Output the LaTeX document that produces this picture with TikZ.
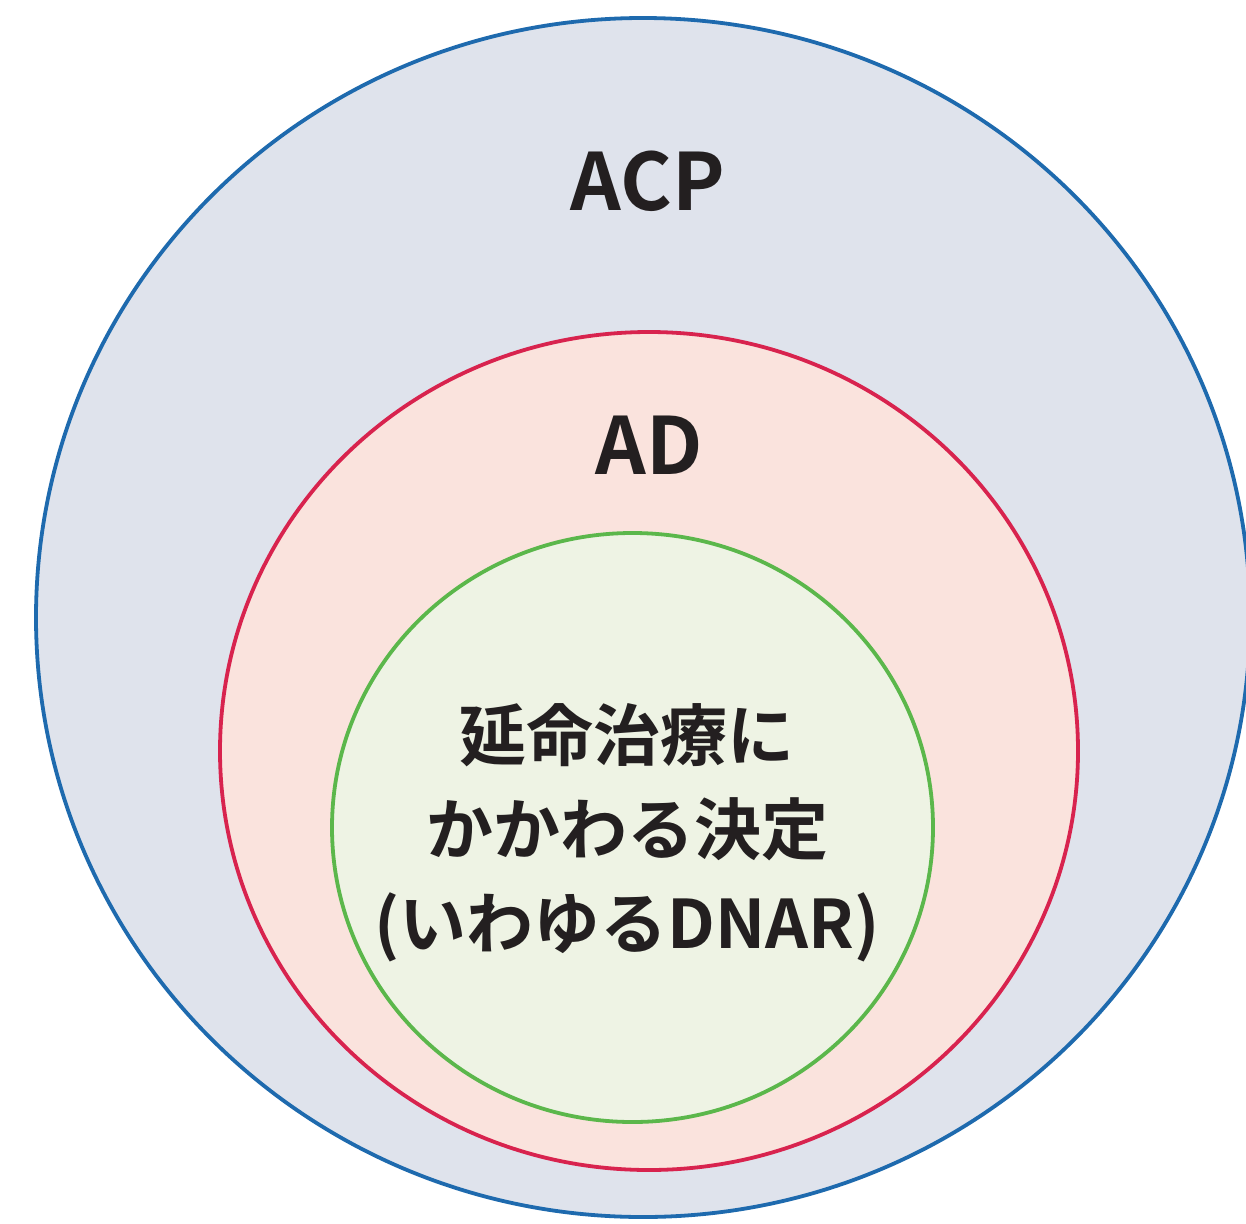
\documentclass[tikz,border=0pt]{standalone}
\usepackage{fontspec}
\setmainfont{Noto Sans CJK JP}[BoldFont={* Bold}]
\newfontfamily\jpbold{Noto Sans CJK JP Bold}
\usetikzlibrary{shapes.geometric}
\definecolor{acpfill}{HTML}{DFE3EC}
\definecolor{acpline}{HTML}{1E6AAE}
\definecolor{adfill}{HTML}{FAE3DD}
\definecolor{adline}{HTML}{D8234E}
\definecolor{dnfill}{HTML}{EEF3E4}
\definecolor{dnline}{HTML}{5BB74B}
\definecolor{ink}{HTML}{231F20}
\tikzset{
  ring/.style={ellipse, inner sep=0pt, line width=3.8pt},
  lbl/.style={text=ink, inner sep=0pt, font=\jpbold\fontsize{79}{90}\selectfont},
  jp/.style={text=ink, inner sep=0pt, align=center, font=\jpbold\fontsize{67}{94}\selectfont}
}
\begin{document}
\begin{tikzpicture}[x=1pt,y=-1pt]
\useasboundingbox (0,0) rectangle (1246,1223);
\fill[white] (0,0) rectangle (1246,1223);
\clip (0,0) rectangle (1246,1223);
\node[ring, draw=acpline, fill=acpfill, minimum width=1214pt, minimum height=1199pt] (acp) at (643,617.5) {};
\node[ring, draw=adline, fill=adfill, minimum width=858pt, minimum height=838pt] (ad) at (649,751) {};
\node[ring, draw=dnline, fill=dnfill, minimum width=601pt, minimum height=589pt] (dn) at (632.5,827.5) {};
\node[lbl] (acpt) at (648,181) {ACP};
\node[lbl] (adt) at (649,445) {AD};
\node[jp] (dnt) at (627,833) {延命治療に\\かかわる決定\\(いわゆるDNAR)};
\end{tikzpicture}
\end{document}
